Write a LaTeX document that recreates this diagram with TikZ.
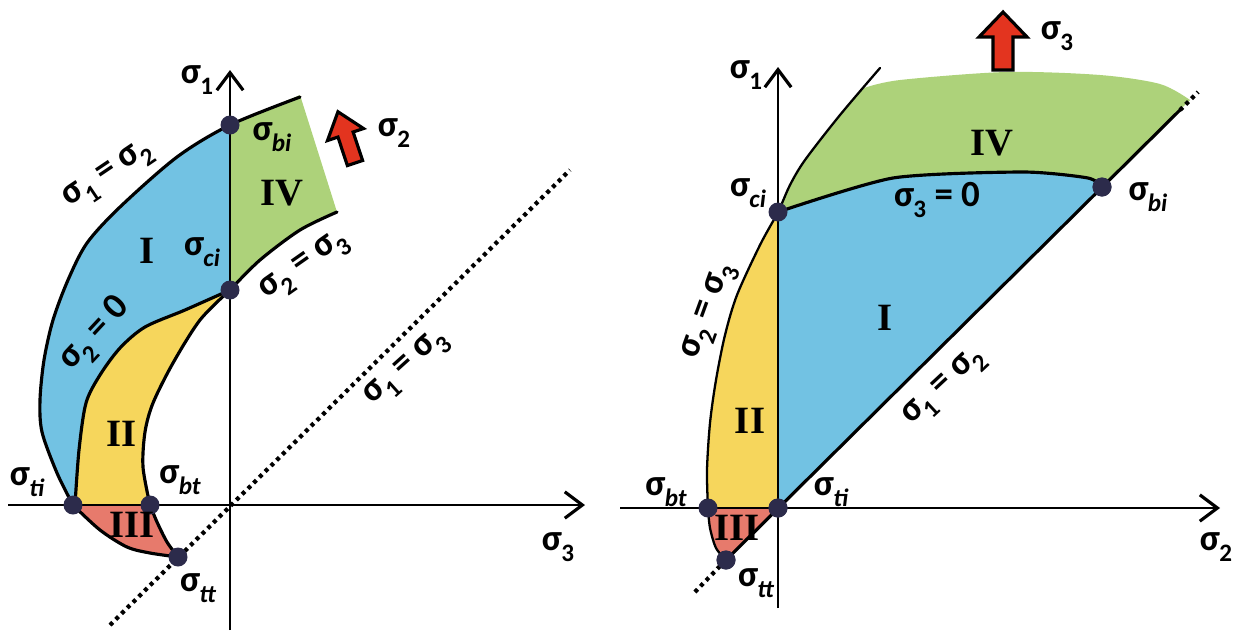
\documentclass[tikz,border=0pt]{standalone}
\usepackage{fontspec}
\usepackage{graphicx}
\setmainfont{Carlito}
\newfontfamily\romfont{Liberation Serif}
\usetikzlibrary{arrows.meta}
\definecolor{cblue}{HTML}{72C2E3}
\definecolor{cgreen}{HTML}{ADD27A}
\definecolor{cyellow}{HTML}{F6D65C}
\definecolor{cpink}{HTML}{E77A6C}
\definecolor{cred}{HTML}{E3341F}
\definecolor{cdot}{HTML}{2C2B4B}
\newcommand{\sg}[1]{σ\kern-0.02em\raisebox{-0.3em}{\scalebox{0.68}{#1}}}
\newcommand{\sgi}[1]{\sg{\itshape #1}}
\tikzset{
  lbl/.style={font=\fontsize{21}{21}\selectfont\bfseries, inner sep=0pt},
  rom/.style={font=\romfont\fontsize{22}{22}\selectfont\bfseries, inner sep=0pt},
  dot/.style={circle, fill=cdot, minimum size=0.38cm, inner sep=0pt},
  bd/.style={line width=1.8pt, line join=round, line cap=round},
  thinbd/.style={line width=1.3pt, line join=round, line cap=round},
  axis/.style={line width=1.6pt, -{Straight Barb[length=10pt,width=15pt,line width=1.8pt]}},
  dotline/.style={line width=2.4pt, dash pattern=on 2.2pt off 2.4pt},
  bigarrow/.style={fill=cred, draw=black, line width=1.8pt, line join=miter}
}
\begin{document}
\begin{tikzpicture}[x=0.02cm,y=-0.02cm]
\useasboundingbox (0,0) rectangle (1237,633);

% ================= LEFT DIAGRAM =================
% fills
\fill[cblue] (73,505) -- plot[smooth] coordinates {(73,505) (57,473) (42,432) (40,400) (44,360) (53,320) (68,280) (87,243) (120,207) (177,157) (230,125)}
  -- (230,290) -- plot[smooth] coordinates {(230,290) (185,310) (145,327) (120,348) (100,375) (86,403) (79,450) (75,505)} -- cycle;
\fill[cyellow] (75,505) -- plot[smooth] coordinates {(75,505) (79,450) (86,403) (100,375) (120,348) (145,327) (185,310) (230,290)}
  -- plot[smooth] coordinates {(230,290) (200,320) (173,363) (153,403) (145,432) (143,467) (150,505)} -- cycle;
\fill[cpink] (73,505) -- (150,505) -- plot[smooth] coordinates {(150,505) (157,522) (167,542) (178,557)}
  -- plot[smooth] coordinates {(178,557) (150,553) (127,547) (100,530) (73,505)} -- cycle;
\fill[cgreen] (230,125) -- (300,95) -- (337,212) -- plot[smooth] coordinates {(337,212) (300,230) (260,260) (230,290)} -- cycle;

% boundaries
\draw[bd] plot[smooth] coordinates {(73,505) (57,473) (42,432) (40,400) (44,360) (53,320) (68,280) (87,243) (120,207) (177,157) (230,125) (300,97)};
\draw[bd] plot[smooth] coordinates {(75,505) (79,450) (86,403) (100,375) (120,348) (145,327) (185,310) (230,290)};
\draw[bd] plot[smooth] coordinates {(230,290) (200,320) (173,363) (153,403) (145,432) (143,467) (150,505)};
\draw[bd] plot[smooth] coordinates {(150,505) (157,522) (167,542) (178,557)};
\draw[bd] plot[smooth] coordinates {(178,557) (150,553) (127,547) (100,530) (73,505)};
\draw[bd] plot[smooth] coordinates {(230,290) (260,260) (300,230) (337,212)};

% axes
\coordinate (L1a) at (230,630);
\coordinate (L1b) at (230,70);
\coordinate (L3a) at (8,505);
\coordinate (L3b) at (585,505);
\coordinate (Ld1) at (110,625);
\coordinate (Ld2) at (570,170);
\draw[dotline] (Ld1) -- (Ld2);
\draw[axis] (L1a) -- (L1b);
\draw[axis] (L3a) -- (L3b);

% dots
\node[dot] (Lbi) at (230,125) {};
\node[dot] (Lci) at (230,290) {};
\node[dot] (Lti) at (73,505) {};
\node[dot] (Lbt) at (150,505) {};
\node[dot] (Ltt) at (178,557) {};

% red arrow sigma2
\begin{scope}[shift={(355,163)}, rotate=108.4]
  \filldraw[bigarrow] (0,-8) -- (30,-8) -- (30,-19) -- (54,0) -- (30,19) -- (30,8) -- (0,8) -- cycle;
\end{scope}

% labels
\node[lbl] (Ls1) at (197,80) {\sg{1}};
\node[lbl] (Ls3) at (558,547) {\sg{3}};
\node[lbl] (Ls2) at (394,133) {\sg{2}};
\node[lbl] (Llbi) at (272,137) {\sgi{bi}};
\node[lbl] (Llci) at (202,252) {\sgi{ci}};
\node[lbl] (Llti) at (27,482) {\sgi{ti}};
\node[lbl] (Llbt) at (180,480) {\sgi{bt}};
\node[lbl] (Lltt) at (198,588) {\sgi{tt}};
\node[lbl, rotate=34] (Le12) at (109,176) {\sg{1} = \sg{2}};
\node[lbl, rotate=35] (Le23) at (305,267) {\sg{2} = \sg{3}};
\node[lbl, rotate=47] (Le20) at (96,335) {\sg{2} = 0};
\node[lbl, rotate=42] (Le13) at (407,369) {\sg{1} = \sg{3}};
\node[rom] (LI) at (147,251) {I};
\node[rom] (LII) at (122,434) {II};
\node[rom] (LIII) at (132,525) {III};
\node[rom] (LIV) at (282,193) {IV};

% ================= RIGHT DIAGRAM =================
% fills
\fill[cgreen] (778,212) -- plot[smooth] coordinates {(778,212) (790,185) (805,160) (840,115) (864,88)}
  -- plot[smooth] coordinates {(864,88) (900,80) (1006,72) (1100,75) (1160,84) (1190,100)}
  -- (1102,187) -- plot[smooth, tension=0.4] coordinates {(1102,187) (1088,178) (1023,172) (893,178) (778,212)} -- cycle;
\fill[cblue] (778,212) -- plot[smooth, tension=0.4] coordinates {(778,212) (893,178) (1023,172) (1088,178) (1102,187)} -- (778,508) -- cycle;
\fill[cyellow] (708,508) -- plot[smooth] coordinates {(708,508) (707,470) (710,423) (716,380) (725,335) (737,295) (760,245) (778,212)} -- (778,508) -- cycle;
\fill[cpink] (708,508) -- (778,508) -- (726,560) -- plot[smooth] coordinates {(726,560) (716,548) (710,528) (708,508)} -- cycle;

% boundaries
\draw[thinbd] plot[smooth] coordinates {(708,508) (707,470) (710,423) (716,380) (725,335) (737,295) (760,245) (778,212) (790,185) (805,160) (840,115) (880,68)};
\draw[bd] plot[smooth, tension=0.4] coordinates {(778,212) (893,178) (1023,172) (1088,178) (1102,187)};
\draw[thinbd] plot[smooth] coordinates {(726,560) (716,548) (710,528) (708,508)};

% axes
\coordinate (R1a) at (778,608);
\coordinate (R1b) at (778,67);
\coordinate (R2a) at (620,508);
\coordinate (R2b) at (1220,508);
\coordinate (Rl1) at (1180,110);
\coordinate (Rl2) at (1198,92);
\coordinate (Rd1) at (720,566);
\coordinate (Rd2) at (694,593);
\draw[axis, line width=1.4pt] (R1a) -- (R1b);
\draw[axis] (R2a) -- (R2b);

% dots
\node[dot] (Rci) at (778,212) {};
\node[dot] (Rbi) at (1102,187) {};
\node[dot] (Rti) at (778,508) {};
\node[dot] (Rbt) at (708,508) {};
\node[dot] (Rtt) at (726,560) {};

\draw[bd] (Rtt.center) -- (Rl1);
\draw[dotline] (Rl1) -- (Rl2);
\draw[dotline] (Rd1) -- (Rd2);
\node[dot] at (Rtt) {};
\node[dot] at (Rti) {};
\node[dot] at (Rbi) {};

% red arrow sigma3
\begin{scope}[shift={(1003,70)}, rotate=90]
  \filldraw[bigarrow] (0,-10) -- (33,-10) -- (33,-24) -- (58,0) -- (33,24) -- (33,10) -- (0,10) -- cycle;
\end{scope}

% labels
\node[lbl] (Rs1) at (746,75) {\sg{1}};
\node[lbl] (Rs2) at (1216,547) {\sg{2}};
\node[lbl] (Rs3) at (1057,36) {\sg{3}};
\node[lbl] (Rlci) at (748,193) {\sgi{ci}};
\node[lbl] (Rlbi) at (1148,197) {\sgi{bi}};
\node[lbl] (Rlti) at (831,492) {\sgi{ti}};
\node[lbl] (Rlbt) at (666,492) {\sgi{bt}};
\node[lbl] (Rltt) at (756,583) {\sgi{tt}};
\node[lbl] (Re30) at (937,200) {\sg{3} = 0};
\node[lbl, rotate=70] (Re23) at (710,312) {\sg{2} = \sg{3}};
\node[lbl, rotate=43] (Re12) at (945,388) {\sg{1} = \sg{2}};
\node[rom] (RI) at (885,318) {I};
\node[rom] (RII) at (750,421) {II};
\node[rom] (RIII) at (737,528) {III};
\node[rom] (RIV) at (992,143) {IV};
\end{tikzpicture}
\end{document}
